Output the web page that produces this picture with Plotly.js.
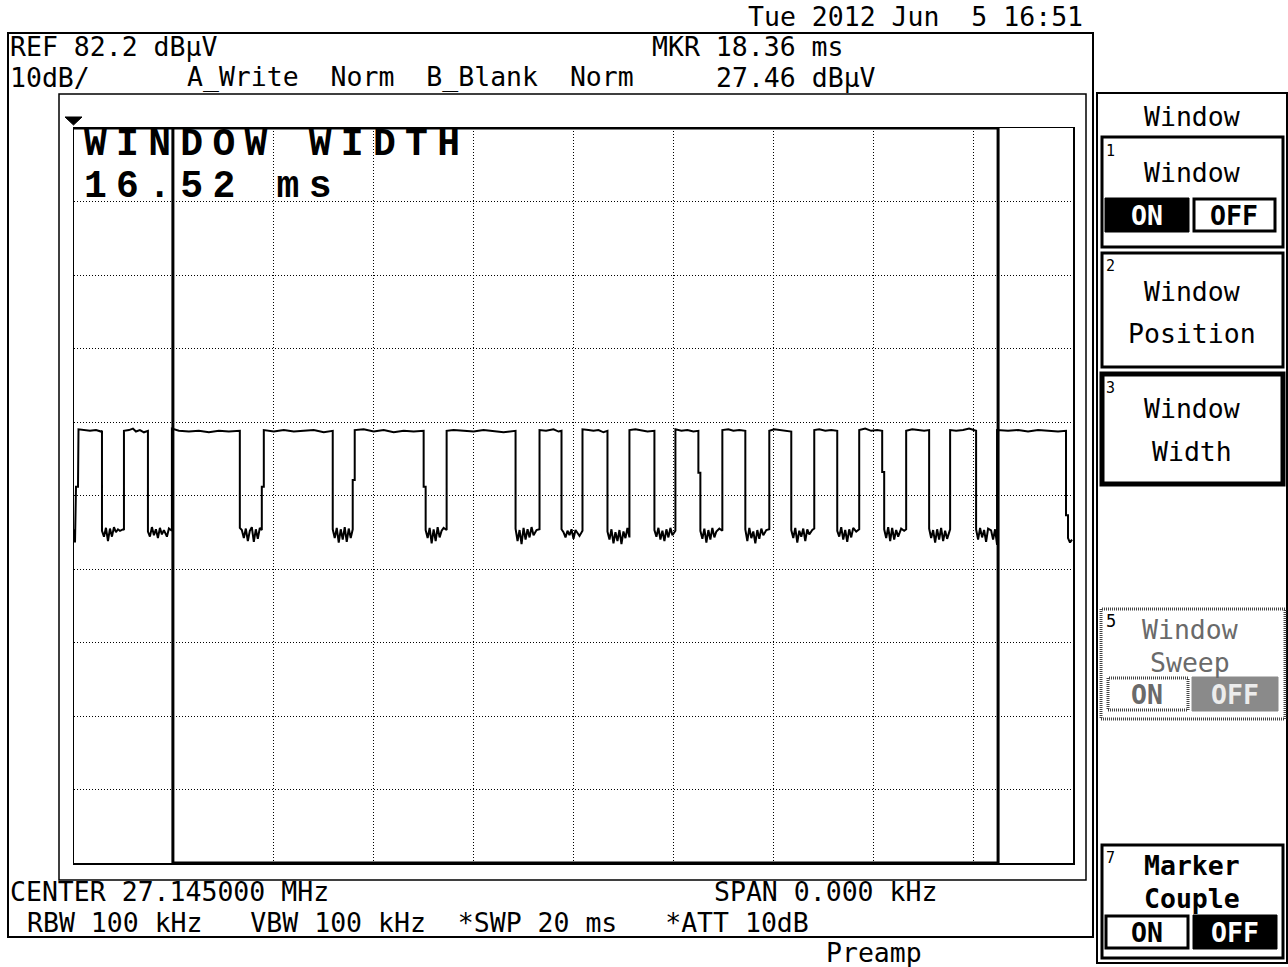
<!DOCTYPE html>
<html><head><meta charset="utf-8">
<script src="https://cdn.plot.ly/plotly-3.0.1.min.js"></script>
<style>html,body{margin:0;padding:0;background:#fff;overflow:hidden}#chart{width:1288px;height:967px}</style>
</head><body><div id="chart"></div>
<script>
// ---- instrument settings ----
const refLevel = 82.2;      // dBuV, top of grid
const dbPerDiv = 10;
const divisions = 10;
const sweepMs = 20;         // zero span, sweep time
const windowStartMs = 1.98;
const windowEndMs = 18.50;

// ---- header / footer texts ----
const headerDate = "Tue 2012 Jun\u00a0\u00a05 16:51";
const headerRef = "REF 82.2 dB\u00b5V";
const headerScale = "10dB/";
const headerTraces = "A_Write\u00a0\u00a0Norm\u00a0\u00a0B_Blank\u00a0\u00a0Norm";
const headerMkr1 = "MKR 18.36 ms";
const headerMkr2 = "27.46 dB\u00b5V";
const footerCenter = "CENTER 27.145000 MHz";
const footerSpan = "SPAN 0.000 kHz";
const footerBw = "RBW 100 kHz\u00a0\u00a0\u00a0VBW 100 kHz\u00a0\u00a0*SWP 20 ms\u00a0\u00a0\u00a0*ATT 10dB";
const footerPreamp = "Preamp";
const windowLabel1 = "WINDOW WIDTH";
const windowLabel2 = "16.52 ms";

// ---- measured trace: [time ms, level dBuV] ----
const trace = [
[0.00,27.6],[0.02,25.8],[0.04,33.4],[0.08,33.4],[0.09,41.2],[0.20,41.1],[0.32,41.0],[0.44,41.1],[0.54,40.9],[0.56,41.0],
[0.56,27.4],[0.60,26.6],[0.64,27.8],[0.68,26.0],[0.72,27.7],[0.76,26.6],[0.80,27.9],[0.84,27.2],[0.88,27.6],[0.92,27.4],[0.98,27.6],[1.00,27.5],
[1.00,41.0],[1.10,41.1],[1.18,41.3],[1.24,40.9],[1.32,41.1],[1.40,40.8],[1.48,41.0],
[1.48,27.3],[1.52,26.6],[1.56,27.9],[1.60,26.8],[1.64,27.6],[1.68,26.4],[1.72,27.8],[1.76,26.9],[1.80,27.5],[1.86,26.6],[1.90,27.7],[1.96,27.4],
[1.96,41.3],[2.10,41.0],[2.30,40.9],[2.50,41.0],[2.70,40.8],[2.90,41.0],[3.10,40.9],[3.32,41.0],
[3.32,27.8],[3.36,27.5],[3.40,26.4],[3.44,27.7],[3.48,26.0],[3.52,27.4],[3.56,27.9],[3.60,25.9],[3.64,27.6],[3.68,26.3],[3.72,27.8],[3.76,27.5],
[3.76,33.4],[3.80,33.4],[3.80,41.1],[4.00,40.9],[4.20,41.1],[4.40,40.9],[4.60,41.0],[4.80,41.1],[5.00,40.8],[5.18,41.0],
[5.18,27.6],[5.22,26.4],[5.26,27.8],[5.30,25.8],[5.34,27.6],[5.38,26.2],[5.42,27.9],[5.46,25.9],[5.50,27.7],[5.54,26.4],[5.58,27.6],
[5.58,34.3],[5.62,34.3],[5.62,41.1],[5.80,41.2],[6.00,40.9],[6.20,41.1],[6.40,40.8],[6.60,41.0],[6.80,40.9],[7.00,41.0],
[7.00,33.4],[7.04,33.4],[7.04,27.5],[7.08,26.4],[7.12,27.8],[7.16,25.7],[7.20,27.6],[7.24,26.0],[7.28,27.9],[7.32,26.5],[7.36,27.4],[7.40,27.8],[7.46,27.5],
[7.46,41.0],[7.60,41.1],[7.80,41.0],[8.00,40.9],[8.20,41.1],[8.40,41.0],[8.60,40.8],[8.84,41.0],
[8.84,27.7],[8.88,26.0],[8.92,27.5],[8.96,25.6],[9.00,27.8],[9.04,26.2],[9.08,27.6],[9.12,26.5],[9.16,27.9],[9.20,26.8],[9.26,27.5],[9.32,27.6],
[9.32,41.1],[9.45,41.0],[9.60,41.2],[9.70,40.9],[9.76,41.0],
[9.76,27.6],[9.80,27.2],[9.84,26.5],[9.88,27.4],[9.92,26.8],[9.96,27.6],[10.00,26.3],[10.04,27.5],[10.08,27.1],[10.12,26.7],[10.18,27.4],
[10.18,41.2],[10.30,41.1],[10.40,41.0],[10.50,41.1],[10.60,40.8],[10.68,41.0],
[10.68,27.3],[10.72,26.2],[10.76,27.6],[10.80,25.7],[10.84,27.2],[10.88,26.0],[10.92,27.5],[10.96,25.6],[11.00,27.3],[11.04,26.4],[11.08,27.8],[11.12,26.5],
[11.12,41.1],[11.24,41.2],[11.36,41.0],[11.48,40.9],[11.62,41.0],
[11.62,27.5],[11.66,26.6],[11.70,27.8],[11.74,26.2],[11.78,27.4],[11.82,26.0],[11.86,27.6],[11.90,26.5],[11.94,27.8],[11.98,26.8],[12.04,27.4],
[12.04,41.2],[12.16,41.0],[12.28,41.1],[12.40,40.9],[12.50,41.0],
[12.50,35.3],[12.54,35.3],[12.54,27.4],[12.58,26.3],[12.62,27.7],[12.66,25.8],[12.70,27.5],[12.74,26.2],[12.78,27.8],[12.82,26.5],[12.86,27.3],[12.92,27.7],[12.98,27.4],
[12.98,41.1],[13.10,41.2],[13.20,41.0],[13.32,41.1],[13.44,41.0],
[13.44,27.6],[13.48,26.0],[13.52,27.8],[13.56,26.4],[13.60,27.3],[13.64,25.7],[13.68,27.5],[13.72,26.3],[13.76,27.7],[13.80,26.8],[13.86,27.5],[13.92,27.6],
[13.92,41.0],[14.02,41.2],[14.14,41.1],[14.26,41.0],[14.36,40.9],
[14.36,27.5],[14.40,26.4],[14.44,27.8],[14.48,25.8],[14.52,27.4],[14.56,26.6],[14.60,27.7],[14.64,26.0],[14.68,27.6],[14.72,26.9],[14.78,27.5],[14.82,27.7],
[14.82,41.1],[14.92,41.2],[15.04,41.0],[15.16,41.1],[15.28,41.0],
[15.28,27.4],[15.32,26.6],[15.36,27.9],[15.40,26.2],[15.44,27.5],[15.48,25.9],[15.52,27.6],[15.56,26.5],[15.60,27.8],[15.66,27.3],[15.72,27.6],
[15.72,41.1],[15.84,41.3],[15.96,41.0],[16.08,41.1],[16.18,41.0],
[16.18,35.4],[16.22,35.4],[16.22,27.6],[16.26,26.4],[16.30,27.9],[16.34,26.0],[16.38,27.8],[16.42,26.2],[16.46,27.5],[16.50,26.6],[16.56,27.7],[16.62,27.4],[16.66,27.6],
[16.66,41.0],[16.78,41.2],[16.90,41.1],[17.02,41.0],[17.12,41.1],
[17.12,27.7],[17.16,26.4],[17.20,27.5],[17.24,25.8],[17.28,27.6],[17.32,26.2],[17.36,27.8],[17.40,26.0],[17.44,27.4],[17.48,26.3],[17.54,27.6],
[17.54,41.1],[17.66,41.0],[17.80,41.1],[17.92,41.3],[18.06,41.0],
[18.06,27.6],[18.10,26.2],[18.14,27.8],[18.18,26.5],[18.22,27.5],[18.26,25.9],[18.30,27.7],[18.36,27.46],[18.40,26.2],[18.44,27.6],[18.48,25.5],
[18.48,41.1],[18.70,41.0],[18.90,41.1],[19.10,40.9],[19.30,41.1],[19.50,41.0],[19.70,40.9],[19.86,41.0],
[19.86,29.5],[19.90,29.5],[19.90,26.4],[19.94,25.8],[19.98,26.2]
];
const traceTime = trace.map(p => p[0]);
const traceLevel = trace.map(p => p[1]);

// ---- page geometry helpers (pixels -> paper) ----
const W = 1288, H = 967, L = 74, R = 1073, T = 128, B = 863;
const PX = x => (x - L) / (R - L);
const PY = y => (B - y) / (B - T);

const shapes = [];
function rect(x0, y0, x1, y1, lw, opt) {
  opt = opt || {};
  shapes.push({type:'rect', xref:'paper', yref:'paper', x0:PX(x0), x1:PX(x1), y0:PY(y1), y1:PY(y0),
    line:{color:opt.color||'#000', width:lw, dash:opt.dash||'solid'}, fillcolor:opt.fill||'rgba(0,0,0,0)', layer:'above'});
}
const annotations = [];
const MONO = '"DejaVu Sans Mono", monospace';
function txt(s, x, y, o) {
  o = o || {};
  annotations.push({text:s, xref:'paper', yref:'paper', x:PX(x), y:PY(y), showarrow:false,
    xanchor:o.xa||'left', yanchor:'middle', borderpad:0,
    font:{family:o.family||MONO, size:o.size||26.5, color:o.color||'#000', weight:o.weight||'normal'}});
}

// frames
rect(8, 33, 1093, 937, 2);
rect(59, 94, 1086, 880, 1.5);
rect(1097, 93, 1287, 963, 2);

// window box on the grid
shapes.push({type:'rect', xref:'x', yref:'y', x0:windowStartMs, x1:windowEndMs, y0:refLevel-dbPerDiv*divisions, y1:refLevel,
  line:{color:'#000', width:3}, layer:'above'});
shapes.push({type:'line', xref:'x', yref:'y', x0:0, x1:windowStartMs, y0:refLevel, y1:refLevel, line:{color:'#000', width:3}, layer:'above'});
// reference level marker triangle
shapes.push({type:'path', xref:'paper', yref:'paper', fillcolor:'#000', line:{color:'#000', width:1},
  path:`M ${PX(65)} ${PY(117)} L ${PX(82)} ${PY(117)} L ${PX(73.5)} ${PY(125)} Z`});

// header
txt(headerDate, 747, 17);
txt(headerRef, 9, 46.5);
txt(headerMkr1, 651, 46.5);
txt(headerScale, 9, 77);
txt(headerTraces, 186, 77);
txt(headerMkr2, 715, 77);
// footer
txt(footerCenter, 9, 891);
txt(footerSpan, 713, 891);
txt(footerBw, 26, 922);
txt(footerPreamp, 825, 953);
// window text
txt('<span style="letter-spacing:9.3px">' + windowLabel1 + '</span>', 83, 144, {family:'"Liberation Mono", monospace', size:38, weight:'bold'});
txt('<span style="letter-spacing:9.3px">' + windowLabel2 + '</span>', 83, 186, {family:'"Liberation Mono", monospace', size:38, weight:'bold'});

// right soft-key panel
const CX = 1192;
txt('Window', CX, 116, {xa:'center'});
// key 1
rect(1102, 137, 1283, 247, 3);
txt('1', 1105, 151, {size:15});
txt('Window', CX, 172, {xa:'center'});
rect(1105, 198, 1189, 232, 1, {fill:'#000'});
rect(1194, 199, 1275, 231, 3);
txt('ON', 1147, 215, {xa:'center', color:'#fff', weight:'bold'});
txt('OFF', 1234, 215, {xa:'center', weight:'bold'});
// key 2
rect(1102, 253, 1283, 367, 3);
txt('2', 1105, 266, {size:15});
txt('Window', CX, 291, {xa:'center'});
txt('Position', CX, 333, {xa:'center'});
// key 3 (active)
rect(1102, 374, 1283, 484, 5);
txt('3', 1105, 388, {size:15});
txt('Window', CX, 409, {xa:'center'});
txt('Width', CX, 451, {xa:'center'});
// key 5 (disabled)
rect(1101, 609, 1285, 719, 3, {dash:'1px,1px', color:'#444'});
txt('5', 1105, 621, {size:17});
txt('Window', CX - 2, 629, {xa:'center', color:'#6a6a6a'});
txt('Sweep', CX - 2, 662, {xa:'center', color:'#6a6a6a'});
rect(1108, 678, 1188, 710, 3, {dash:'1px,1px', color:'#444'});
rect(1192, 677, 1278, 711, 1, {fill:'#8a8a8a', color:'#8a8a8a'});
txt('ON', 1147, 694, {xa:'center', color:'#6a6a6a', weight:'bold'});
txt('OFF', 1235, 694, {xa:'center', color:'#ececec', weight:'bold'});
// key 7
rect(1102, 845, 1283, 958, 3);
txt('7', 1105, 858, {size:15});
txt('Marker', CX, 865, {xa:'center', weight:'bold'});
txt('Couple', CX, 898, {xa:'center', weight:'bold'});
rect(1106, 916, 1188, 948, 3);
rect(1193, 915, 1277, 949, 1, {fill:'#000'});
txt('ON', 1147, 932, {xa:'center', weight:'bold'});
txt('OFF', 1235, 932, {xa:'center', color:'#fff', weight:'bold'});

const data = [{
  x: traceTime, y: traceLevel, type:'scatter', mode:'lines',
  line:{color:'#000', width:2, shape:'linear'}, hoverinfo:'skip', cliponaxis:true
}];

const gridDash = '1px,2px';
const layout = {
  width:W, height:H, autosize:false,
  margin:{l:L, r:W-R, t:T, b:H-B, pad:0},
  paper_bgcolor:'#fff', plot_bgcolor:'#fff',
  showlegend:false,
  xaxis:{range:[0, sweepMs], dtick:sweepMs/divisions, tick0:0, showgrid:true, gridcolor:'#000', gridwidth:1, griddash:gridDash,
    zeroline:false, showline:true, mirror:true, linecolor:'#000', linewidth:1.5, ticks:'', showticklabels:false, fixedrange:true},
  yaxis:{range:[refLevel-dbPerDiv*divisions, refLevel], dtick:dbPerDiv, tick0:refLevel, showgrid:true, gridcolor:'#000', gridwidth:1, griddash:gridDash,
    zeroline:false, showline:true, mirror:true, linecolor:'#000', linewidth:1.5, ticks:'', showticklabels:false, fixedrange:true},
  shapes: shapes,
  annotations: annotations
};
Plotly.newPlot('chart', data, layout, {staticPlot:true, displayModeBar:false});
</script>
</body></html>
